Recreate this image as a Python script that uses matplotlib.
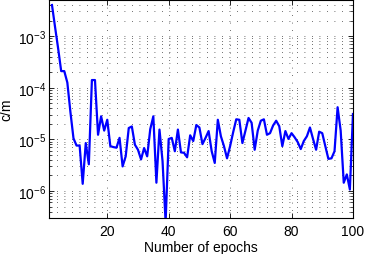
# c/m per epoch, log scale
import matplotlib
matplotlib.use("Agg")
import matplotlib.pyplot as plt
from matplotlib.ticker import LogLocator, FixedLocator, NullFormatter

plt.rcParams['font.family'] = ['Liberation Sans', 'DejaVu Sans']
plt.rcParams['mathtext.fontset'] = 'custom'
plt.rcParams['mathtext.rm'] = 'Liberation Sans'
plt.rcParams['mathtext.it'] = 'Liberation Sans'

epochs = list(range(2, 101))
cm = [4.0e-3, 1.5e-3, 5.8e-4, 2.1e-4, 2.1e-4, 1.26e-4, 3.4e-5, 1.05e-5, 7.6e-6,
      7.6e-6, 1.38e-6, 8.5e-6, 3.3e-6, 1.41e-4, 1.41e-4, 1.23e-5, 2.8e-5, 1.48e-5,
      2.4e-5, 7.4e-6, 7.1e-6, 6.9e-6, 1.07e-5, 3.0e-6, 4.7e-6, 1.66e-5, 1.78e-5,
      7.9e-6, 6.3e-6, 4.1e-6, 6.8e-6, 4.7e-6, 1.58e-5, 2.8e-5, 1.45e-6, 1.55e-5,
      3.8e-6, 2.5e-7, 1.02e-5, 1.07e-5, 5.9e-6, 1.55e-5, 5.6e-6, 5.5e-6, 4.5e-6,
      1.2e-5, 9.3e-6, 1.9e-5, 1.7e-5, 8.1e-6, 1.07e-5, 1.45e-5, 5.9e-6, 3.5e-6,
      2.4e-5, 1.15e-5, 7.4e-6, 4.3e-6, 7.4e-6, 1.38e-5, 2.45e-5, 2.4e-5, 8.5e-6,
      1.48e-5, 2.6e-5, 2.1e-5, 6.3e-6, 1.48e-5, 2.3e-5, 2.45e-5, 1.23e-5, 1.32e-5,
      1.86e-5, 2.3e-5, 1.8e-5, 7.4e-6, 1.45e-5, 1.02e-5, 1.32e-5, 1.1e-5, 8.9e-6,
      6.5e-6, 9.3e-6, 1.15e-5, 1.7e-5, 1.02e-5, 6.3e-6, 1.41e-5, 1.32e-5, 7.4e-6,
      4.2e-6, 4.3e-6, 5.9e-6, 4.2e-5, 1.48e-5, 1.45e-6, 2.1e-6, 1.07e-6, 3.1e-5]
xticks = [20, 40, 60, 80, 100]
yticks = [1e-6, 1e-5, 1e-4, 1e-3]
ytick_labels = [r'$10^{-6}$', r'$10^{-5}$', r'$10^{-4}$', r'$10^{-3}$']

fig = plt.figure(figsize=(3.65, 2.55), dpi=100)
ax = fig.add_axes([0.134, 0.141, 0.833, 0.855])

ax.plot(epochs, cm, color=(0, 0, 1), lw=1.6)
ax.set_yscale('log')
ax.set_xlim(1, 100)
ax.set_ylim(3.0e-7, 5.0e-3)

ax.set_xticks(xticks)
ax.set_xticklabels([str(t) for t in xticks])
ax.yaxis.set_major_locator(FixedLocator(yticks))
ax.set_yticklabels(ytick_labels)
ax.yaxis.set_minor_locator(LogLocator(base=10, subs=range(2, 10), numticks=20))
ax.yaxis.set_minor_formatter(NullFormatter())

dots = (0, (1, 8))
ax.grid(True, which='major', axis='both', color='0.25', lw=0.6, linestyle=dots)
ax.grid(True, which='minor', axis='y', color='0.25', lw=0.6, linestyle=dots)

ax.tick_params(which='both', direction='in', top=True, right=True)
ax.tick_params(axis='x', labelsize=10, pad=4)
ax.tick_params(axis='y', labelsize=10, pad=2)
ax.tick_params(which='major', length=3.5, width=0.6)
ax.tick_params(which='minor', length=2, width=0.5)
for s in ax.spines.values():
    s.set_linewidth(0.8)

ax.set_xlabel('Number of epochs', fontsize=10, labelpad=2)
ax.set_ylabel('c/m', fontsize=10)
ax.yaxis.set_label_coords(-0.118, 0.5)

fig.savefig('out.png', dpi=100)
